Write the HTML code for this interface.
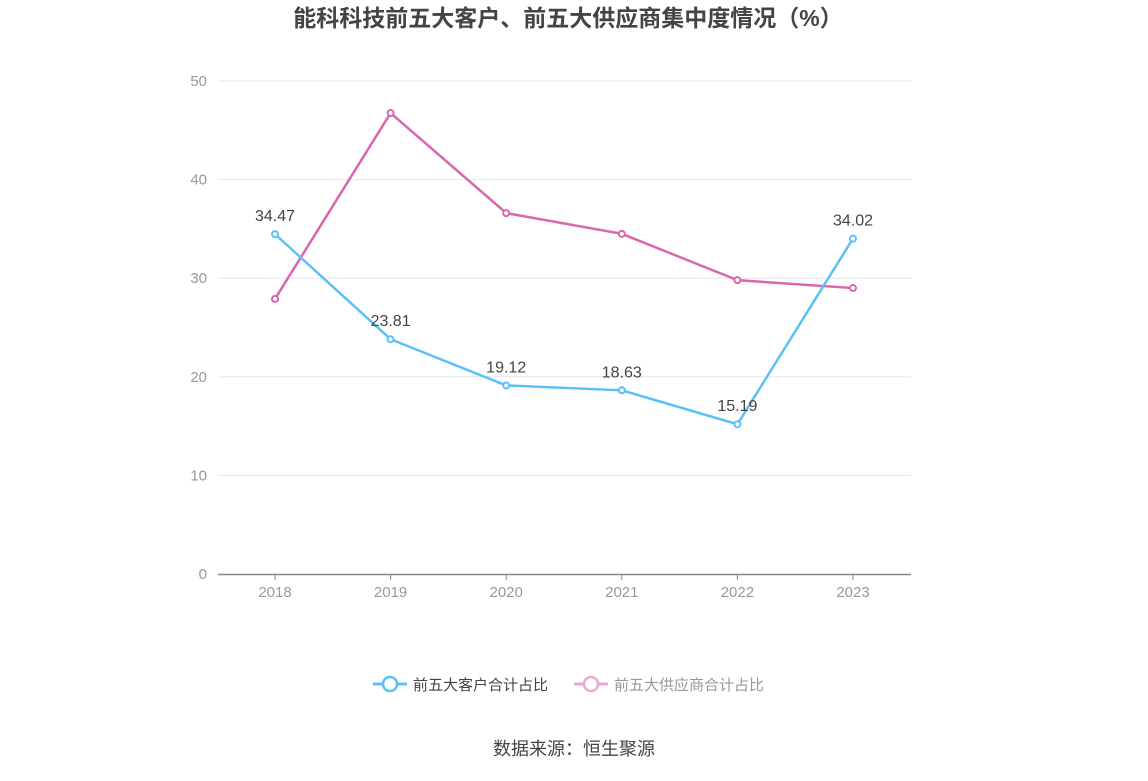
<!DOCTYPE html>
<html><head><meta charset="utf-8"><style>
body{margin:0;background:#fff;font-family:"Liberation Sans","Noto Sans CJK SC",sans-serif;}
</style></head><body>
<svg width="1148" height="776" xmlns="http://www.w3.org/2000/svg" font-family="Liberation Sans, Noto Sans CJK SC, sans-serif">
<text x="568" y="26" text-anchor="middle" font-size="23" font-weight="bold" fill="#444">能科科技前五大客户、前五大供应商集中度情况（%）</text>
<g id="grid"></g><g id="axes"></g><g id="series"></g>
<g>
<g>
<line x1="373" y1="684" x2="407" y2="684" stroke="#5bc0f8" stroke-width="3"/><circle cx="390" cy="684" r="7" fill="#fff" stroke="#5bc0f8" stroke-width="2.5"/>
<text x="413" y="690" font-size="15" fill="#444">前五大客户合计占比</text></g>
<g>
<line x1="574" y1="684" x2="608" y2="684" stroke="#e9a9d4" stroke-width="3"/><circle cx="591" cy="684" r="7" fill="#fff" stroke="#e9a9d4" stroke-width="2.5"/>
<text x="614" y="690" font-size="15" fill="#999">前五大供应商合计占比</text></g>
</g>
<text x="574" y="755" text-anchor="middle" font-size="18" fill="#444">数据来源：恒生聚源</text>
</svg>
<script>
const categories=["2018","2019","2020","2021","2022","2023"];
const customers=[34.47,23.81,19.12,18.63,15.19,34.02];
const suppliers=[27.9,46.75,36.6,34.5,29.8,29.0];
const yTicks=[0,10,20,30,40,50];
const NS="http://www.w3.org/2000/svg";
const x=i=>275+i*115.6;
const y=v=>574-v*9.86;
function mk(t,a,p){const e=document.createElementNS(NS,t);for(const k in a)e.setAttribute(k,a[k]);p.appendChild(e);return e;}
const grid=document.getElementById('grid'),axes=document.getElementById('axes'),ser=document.getElementById('series');
yTicks.forEach(v=>{
 if(v>0){const l=mk('line',{x1:218,x2:911,y1:y(v),y2:y(v),stroke:'#e6e6ef'},grid);
 
 }
 const t=mk('text',{x:207,y:y(v)+5,'text-anchor':'end','font-size':15,fill:'#999'},axes);t.textContent=v;
 
 
});
const ax=mk('line',{x1:218,x2:911,y1:574.5,y2:574.5,stroke:'#888','stroke-width':1.5},axes);


categories.forEach((c,i)=>{
 mk('line',{x1:x(i),x2:x(i),y1:575,y2:580,stroke:'#888'},axes);
 const t=mk('text',{x:x(i),y:597,'text-anchor':'middle','font-size':15,fill:'#999'},axes);t.textContent=c;
 
 
});
function draw(data,color,name,labels){
 const p=mk('polyline',{points:data.map((v,i)=>x(i)+','+y(v)).join(' '),fill:'none',stroke:color,'stroke-width':2.5},ser);
 
 
 data.forEach((v,i)=>{
  const c=mk('circle',{cx:x(i),cy:y(v),r:3,fill:'#fff',stroke:color,'stroke-width':2},ser);
  
  
  if(labels){const t=mk('text',{x:x(i),y:y(v)-13,'text-anchor':'middle','font-size':16,fill:'#444'},ser);t.textContent=v.toFixed(2);
  
  }
 });
}
draw(suppliers,'#d966ae','suppliers',false);
draw(customers,'#5bc0f8','customers',true);
</script>
</body></html>
